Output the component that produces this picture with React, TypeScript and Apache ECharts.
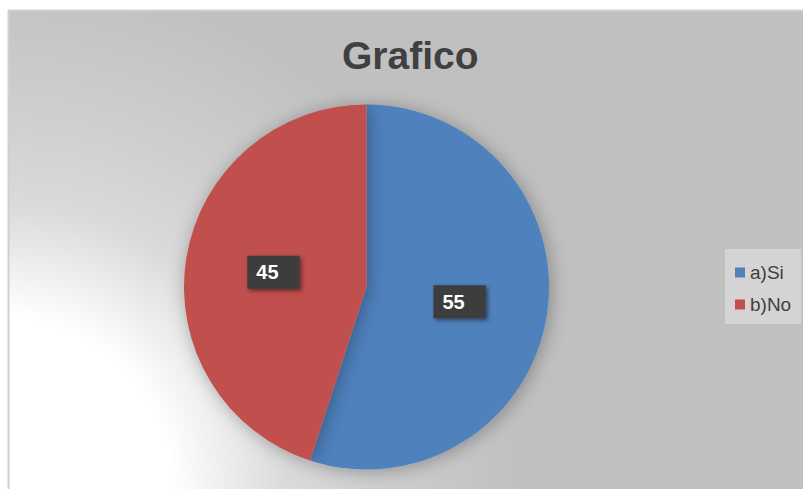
import React, { useEffect, useRef } from "react";
import * as echarts from "echarts";

const categories = ["a)Si", "b)No"];
const values = [55, 45];
const colors = ["#4f81bd", "#c0504d"];
const titleText = "Grafico";

export default function App() {
  const ref = useRef<HTMLDivElement>(null);
  useEffect(() => {
    if (!ref.current) return;
    const chart = echarts.init(ref.current, null, { renderer: "svg" });
    const font = "'Liberation Sans', Arial, sans-serif";
    chart.setOption({
      animation: false,
      title: {
        text: titleText,
        left: 337,
        top: 31,
        textStyle: { fontFamily: font, fontSize: 39, fontWeight: "bold", color: "#404040" },
      },
      graphic: [
        {
          type: "rect",
          z: -10,
          silent: true,
          shape: { x: 8, y: 10, width: 795, height: 479 },
          style: {
            fill: new echarts.graphic.RadialGradient(0, 489, 520, [
              { offset: 0, color: "#ffffff" },
              { offset: 0.33, color: "#ffffff" },
              { offset: 0.55, color: "#dadada" },
              { offset: 0.72, color: "#cfcfcf" },
              { offset: 1, color: "#c0c0c0" },
            ], true),
          },
        },
        {
          type: "line",
          z: -9,
          silent: true,
          shape: { x1: 8.5, y1: 10, x2: 8.5, y2: 489 },
          style: { stroke: "#d0d0d0", lineWidth: 2 },
        },
        {
          type: "line",
          z: -9,
          silent: true,
          shape: { x1: 8, y1: 10.5, x2: 803, y2: 10.5 },
          style: { stroke: "#d0d0d0", lineWidth: 2 },
        },
      ],
      legend: {
        orient: "vertical",
        left: 725,
        top: 249,
        padding: [14, 10, 10, 10],
        backgroundColor: "#d4d4d4",
        icon: "rect",
        itemWidth: 10,
        itemHeight: 10,
        itemGap: 13,
        textStyle: { fontFamily: font, fontSize: 19, color: "#404040" },
        data: categories,
      },
      series: [
        {
          type: "pie",
          center: [366.5, 287],
          radius: 182.5,
          startAngle: 90,
          clockwise: true,
          data: categories.map((c, i) => ({ name: c, value: values[i], itemStyle: { color: colors[i] } })),
          itemStyle: {
            borderWidth: 0,
            shadowBlur: 18,
            shadowColor: "rgba(0,0,0,0.3)",
            shadowOffsetX: 2,
            shadowOffsetY: 2,
          },
          label: {
            show: true,
            position: "inside",
            formatter: "{c}",
            fontFamily: font,
            fontSize: 20,
            fontWeight: "bold",
            color: "#ffffff",
            backgroundColor: "#3c3c3c",
            padding: [7, 21, 6, 9],
            shadowColor: "rgba(0,0,0,0.5)",
            shadowBlur: 4,
            shadowOffsetX: 2,
            shadowOffsetY: 2,
          },
          labelLine: { show: false },
          emphasis: { disabled: true },
        },
      ],
    });
    return () => chart.dispose();
  }, []);
  return (
    <div
      ref={ref}
      style={{ position: "absolute", left: 0, top: 0, width: 803, height: 489, background: "#ffffff" }}
    />
  );
}
